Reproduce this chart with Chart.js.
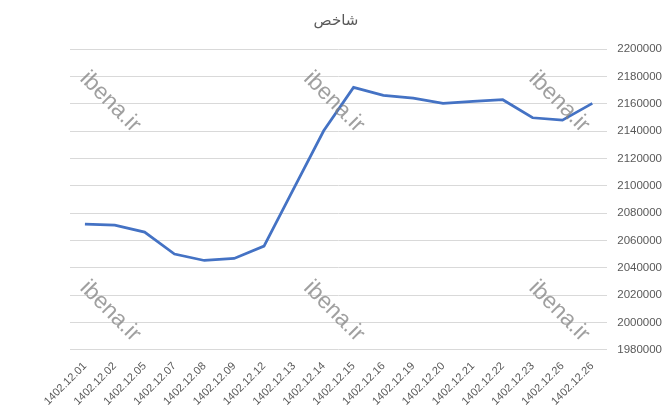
<!DOCTYPE html>
<html>
<head>
<meta charset="utf-8">
<script src="https://cdn.jsdelivr.net/npm/chart.js@4.4.0/dist/chart.umd.min.js"></script>
<style>
  html, body { margin: 0; padding: 0; background: #fff; }
  #wrap { width: 672px; height: 416px; }
</style>
</head>
<body>
<div id="wrap"><canvas id="chartShakhes"></canvas></div>
<script>
// برچسب‌های تاریخ
const tarikh = [
  "1402.12.01", "1402.12.02", "1402.12.05", "1402.12.07", "1402.12.08",
  "1402.12.09", "1402.12.12", "1402.12.13", "1402.12.14", "1402.12.15",
  "1402.12.16", "1402.12.19", "1402.12.20", "1402.12.21", "1402.12.22",
  "1402.12.23", "1402.12.26", "1402.12.26"
];

// مقادیر شاخص
const shakhes = [
  2071900, 2071200, 2066100, 2050000, 2045300,
  2046800, 2055800, 2098000, 2140200, 2171900,
  2166100, 2164100, 2160200, 2161700, 2162900,
  2149700, 2148000, 2160200
];

// محور عمودی
const yMin = 1980000;
const yMax = 2200000;
const yStep = 20000;

// واترمارک ها (نسبت به عرض و ارتفاع بوم)
const watermarkPos = [
  [0.164, 0.245], [0.497, 0.245], [0.832, 0.245],
  [0.164, 0.748], [0.497, 0.748], [0.832, 0.748]
];

const watermarkPlugin = {
  id: "watermark",
  afterDatasetsDraw(chart) {
    const ctx = chart.ctx;
    ctx.save();
    ctx.font = "23px 'Liberation Sans', Arial, sans-serif";
    ctx.fillStyle = "rgba(128,128,128,0.75)";
    ctx.textAlign = "center";
    ctx.textBaseline = "middle";
    watermarkPos.forEach(([px, py]) => {
      ctx.save();
      ctx.translate(px * chart.width, py * chart.height);
      ctx.rotate(Math.PI / 4);
      ctx.fillText("ibena.ir", 0, 0);
      ctx.restore();
    });
    ctx.restore();
  },
};

const ctx = document.getElementById("chartShakhes").getContext("2d");
new Chart(ctx, {
  type: "line",
  data: {
    labels: tarikh,
    datasets: [
      {
        label: "شاخص",
        data: shakhes,
        borderColor: "#4472C4",
        borderWidth: 2.75,
        pointRadius: 0,
        tension: 0,
        fill: false,
      },
    ],
  },
  options: {
    responsive: true,
    maintainAspectRatio: false,
    animation: false,
    layout: {
      padding: { left: 0, right: 0, top: 4, bottom: 6 },
    },
    scales: {
      x: {
        offset: true,
        grid: { display: false },
        border: { display: false },
        ticks: {
          autoSkip: false,
          maxRotation: 45,
          minRotation: 45,
          color: "#595959",
          font: { family: "'Liberation Sans', Arial, sans-serif", size: 11 },
          padding: 2,
        },
      },
      y: {
        position: "right",
        min: yMin,
        max: yMax,
        grid: { color: "#d9d9d9", drawTicks: false },
        border: { display: false },
        ticks: {
          stepSize: yStep,
          color: "#595959",
          padding: 10,
          font: { family: "'Liberation Sans', Arial, sans-serif", size: 11.5 },
          callback: (v) => String(v),
        },
      },
      // فضای خالی سمت چپ نمودار
      fazaChap: {
        position: "left",
        grid: { display: false },
        border: { display: false },
        ticks: { display: false },
        afterFit: (scale) => {
          scale.width = 70;
        },
      },
    },
    plugins: {
      legend: { display: false },
      tooltip: { enabled: false },
      title: {
        display: true,
        text: "شاخص",
        color: "#595959",
        font: { family: "'Noto Sans', 'DejaVu Sans', sans-serif", size: 15, weight: "normal" },
        padding: { top: 8, bottom: 19 },
      },
    },
  },
  plugins: [watermarkPlugin],
});
</script>
</body>
</html>
